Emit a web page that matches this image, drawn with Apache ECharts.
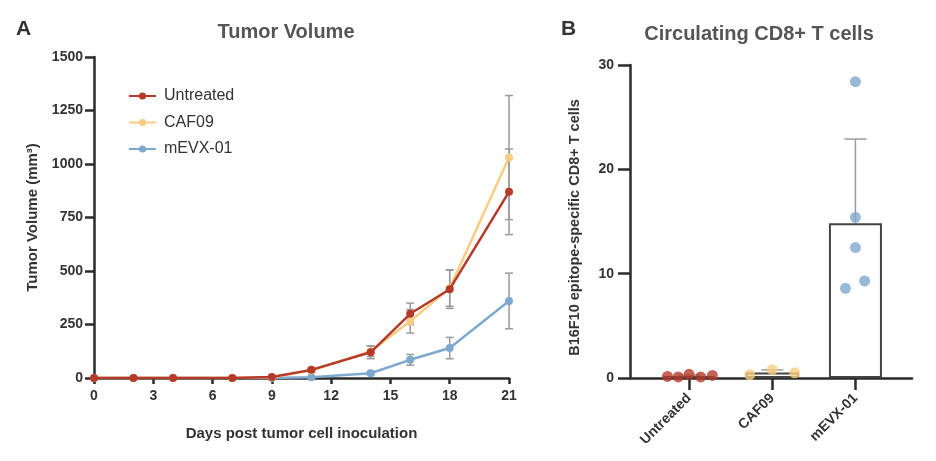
<!DOCTYPE html>
<html><head><meta charset="utf-8">
<script src="https://cdn.jsdelivr.net/npm/echarts@6/dist/echarts.min.js"></script>
<style>html,body{margin:0;padding:0;background:#fff}#c{width:936px;height:461px}</style>
</head><body><div id="c"></div>
<script>
// ---- Data: panel A ----
const days = [0, 2, 4, 7, 9, 11, 14, 16, 18, 21];
const untreated = [0, 0, 0, 0, 5, 38, 120, 300, 415, 870];
const untreatedSD = [0, 0, 0, 0, 2, 8, 30, 50, 90, 200];
const caf09 = [0, 0, 0, 0, 4, 35, 125, 265, 420, 1030];
const caf09SD = [0, 0, 0, 0, 2, 8, 25, 55, 85, 290];
const mevx = [0, 0, 0, 0, 0, 3, 22, 85, 140, 360];
const mevxSD = [0, 0, 0, 0, 0, 2, 8, 25, 50, 130];

// ---- Data: panel B ----
const groups = ['Untreated', 'CAF09', 'mEVX-01'];
const ptsUntreated = [0.15, 0.1, 0.35, 0.1, 0.25];
const ptsCaf09 = [0.3, 0.8, 0.5];
const ptsMevx = [28.4, 15.4, 12.5, 9.3, 8.6];
const jitterUntreated = [-0.26, -0.13, 0, 0.14, 0.28];
const jitterCaf09 = [-0.27, 0, 0.27];
const jitterMevx = [0, 0, 0, 0.11, -0.12];
const groupMeans = [0.19, 0.53, 14.84];
const groupSD = [0.1, 0.25, 8.06];

const colors = { u: '#B63A2A', c: '#F6CD82', m: '#7EA8CE' };
const FONT = 'Liberation Sans, Arial, sans-serif';
const axisCol = '#2b2b2b';

const chart = echarts.init(document.getElementById('c'));

function zipXY(xs, ys) { return xs.map((x, i) => [x, ys[i]]); }
function errData(xs, ys, sd) { return xs.map((x, i) => [x, ys[i] - sd[i], ys[i] + sd[i]]); }

function errRender(capHalf) {
  return function (params, api) {
    const x = api.value(0), lo = api.value(1), hi = api.value(2);
    if (hi - lo <= 0) return null;
    const p1 = api.coord([x, lo]), p2 = api.coord([x, hi]);
    const st = { stroke: '#9a9a9a', lineWidth: 1.5 };
    return {
      type: 'group', children: [
        { type: 'line', shape: { x1: p1[0], y1: p1[1], x2: p2[0], y2: p2[1] }, style: st },
        { type: 'line', shape: { x1: p1[0] - capHalf, y1: p1[1], x2: p1[0] + capHalf, y2: p1[1] }, style: st },
        { type: 'line', shape: { x1: p2[0] - capHalf, y1: p2[1], x2: p2[0] + capHalf, y2: p2[1] }, style: st }
      ]
    };
  };
}

function errUpRender(capHalf) {
  return function (params, api) {
    const x = api.value(0), m = api.value(1), sd = api.value(2);
    const p1 = api.coord([x, m]), p2 = api.coord([x, m + sd]);
    const st = { stroke: '#9a9a9a', lineWidth: 1.5 };
    return {
      type: 'group', children: [
        { type: 'line', shape: { x1: p1[0], y1: p1[1], x2: p2[0], y2: p2[1] }, style: st },
        { type: 'line', shape: { x1: p2[0] - capHalf, y1: p2[1], x2: p2[0] + capHalf, y2: p2[1] }, style: st }
      ]
    };
  };
}

const axisLine = { show: true, onZero: false, lineStyle: { color: axisCol, width: 2.5 } };
const tick = (len) => ({ show: true, length: len, lineStyle: { color: axisCol, width: 2.5 } });
const lblStyle = { color: '#333', fontWeight: 'bold', fontSize: 14, fontFamily: FONT };
const nameStyle = (s) => ({ fontSize: s, fontWeight: 'bold', color: '#333', fontFamily: FONT });

const option = {
  animation: false,
  backgroundColor: '#fff',
  textStyle: { fontFamily: FONT },
  title: [
    { text: 'A', left: 11, top: 14, textStyle: { fontSize: 21, fontWeight: 'bold', color: '#333', fontFamily: FONT } },
    { text: 'Tumor Volume', left: 281, top: 17, textAlign: 'center', textStyle: { fontSize: 20, fontWeight: 'bold', color: '#555', fontFamily: FONT } },
    { text: 'B', left: 556, top: 14, textStyle: { fontSize: 21, fontWeight: 'bold', color: '#333', fontFamily: FONT } },
    { text: 'Circulating CD8+ T cells', left: 754, top: 19, textAlign: 'center', textStyle: { fontSize: 20, fontWeight: 'bold', color: '#555', fontFamily: FONT } }
  ],
  legend: {
    left: 123, top: 83, orient: 'vertical', itemGap: 10.5, itemWidth: 27, itemHeight: 9,
    data: ['Untreated', 'CAF09', 'mEVX-01'],
    textStyle: { fontSize: 16, color: '#333', fontFamily: FONT, padding: [0, 0, 0, 3] }
  },
  grid: [
    { left: 94, right: 427, top: 57, bottom: 83 },
    { left: 630, right: 24, top: 65, bottom: 83 }
  ],
  xAxis: [
    {
      gridIndex: 0, type: 'value', min: 0, max: 21, interval: 3,
      name: 'Days post tumor cell inoculation', nameLocation: 'middle', nameGap: 48,
      nameTextStyle: nameStyle(15),
      axisLine, axisTick: tick(6), splitLine: { show: false },
      axisLabel: Object.assign({ margin: 11 }, lblStyle)
    },
    {
      gridIndex: 1, type: 'value', min: -0.71, max: 2.68,
      axisLine, splitLine: { show: false },
      axisTick: Object.assign(tick(12), { customValues: [0, 1, 2] }),
      axisLabel: Object.assign({ rotate: 45, margin: 18, customValues: [0, 1, 2], formatter: v => groups[Math.round(v)] || '' }, lblStyle, { fontSize: 14 })
    }
  ],
  yAxis: [
    {
      gridIndex: 0, type: 'value', min: 0, max: 1500, interval: 250,
      name: 'Tumor Volume (mm³)', nameLocation: 'middle', nameGap: 54,
      nameTextStyle: nameStyle(15),
      axisLine, axisTick: tick(9), splitLine: { show: false },
      axisLabel: Object.assign({ margin: 11, formatter: v => String(v) }, lblStyle)
    },
    {
      gridIndex: 1, type: 'value', min: 0, max: 30, interval: 10,
      name: 'B16F10 epitope-specific CD8+ T cells', nameLocation: 'middle', nameGap: 48,
      nameTextStyle: Object.assign(nameStyle(14.5), { padding: [0, 12, 0, 0] }),
      axisLine, axisTick: tick(12), splitLine: { show: false },
      axisLabel: Object.assign({ margin: 16, formatter: v => String(v) }, lblStyle)
    }
  ],
  series: [
    // Panel A error bars
    { type: 'custom', xAxisIndex: 0, yAxisIndex: 0, renderItem: errRender(4), data: errData(days, mevx, mevxSD), z: 1, silent: true },
    { type: 'custom', xAxisIndex: 0, yAxisIndex: 0, renderItem: errRender(4), data: errData(days, caf09, caf09SD), z: 1, silent: true },
    { type: 'custom', xAxisIndex: 0, yAxisIndex: 0, renderItem: errRender(4), data: errData(days, untreated, untreatedSD), z: 1, silent: true },
    // Panel A lines
    { name: 'mEVX-01', type: 'line', xAxisIndex: 0, yAxisIndex: 0, data: zipXY(days, mevx), color: colors.m, symbol: 'circle', symbolSize: 8, lineStyle: { width: 2.5 }, z: 3 },
    { name: 'CAF09', type: 'line', xAxisIndex: 0, yAxisIndex: 0, data: zipXY(days, caf09), color: colors.c, symbol: 'circle', symbolSize: 8, lineStyle: { width: 2.5 }, z: 4 },
    { name: 'Untreated', type: 'line', xAxisIndex: 0, yAxisIndex: 0, data: zipXY(days, untreated), color: colors.u, symbol: 'circle', symbolSize: 8, lineStyle: { width: 2.5 }, z: 5 },
    // Panel B bars
    {
      type: 'bar', xAxisIndex: 1, yAxisIndex: 1, barWidth: 53, silent: true,
      data: groupMeans.map((v, i) => [i, v]),
      itemStyle: { color: '#fff', borderColor: '#444', borderWidth: 2 }, z: 2
    },
    { type: 'custom', xAxisIndex: 1, yAxisIndex: 1, renderItem: errUpRender(11), data: groupMeans.map((v, i) => [i, v, groupSD[i]]), z: 1, silent: true },
    // Panel B points
    { type: 'scatter', xAxisIndex: 1, yAxisIndex: 1, symbolSize: 11, color: colors.u, data: ptsUntreated.map((v, i) => [0 + jitterUntreated[i], v]), z: 4 },
    { type: 'scatter', xAxisIndex: 1, yAxisIndex: 1, symbolSize: 11, color: colors.c, data: ptsCaf09.map((v, i) => [1 + jitterCaf09[i], v]), z: 4 },
    { type: 'scatter', xAxisIndex: 1, yAxisIndex: 1, symbolSize: 11, color: colors.m, data: ptsMevx.map((v, i) => [2 + jitterMevx[i], v]), z: 4 }
  ]
};
chart.setOption(option);
</script>
</body></html>
